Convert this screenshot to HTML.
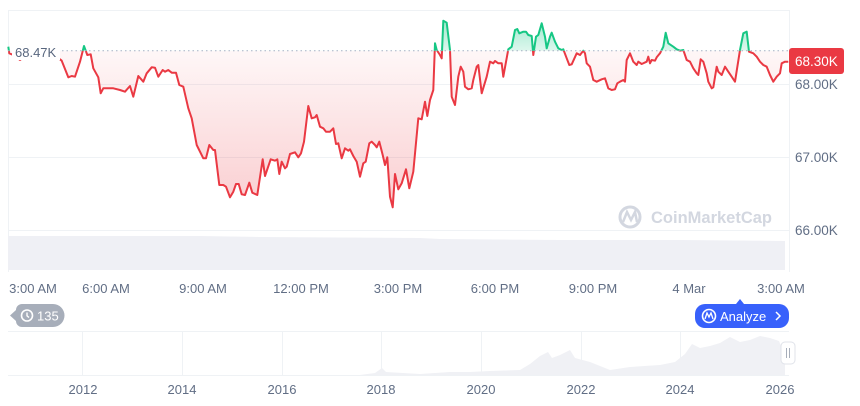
<!DOCTYPE html>
<html><head><meta charset="utf-8">
<style>
html,body{margin:0;padding:0;background:#fff;}
body{width:860px;height:401px;overflow:hidden;font-family:"Liberation Sans",sans-serif;}
svg text{font-family:"Liberation Sans",sans-serif;}
</style></head><body>
<svg id="s" width="860" height="401" viewBox="0 0 860 401" xmlns="http://www.w3.org/2000/svg">
<defs>
<linearGradient id="rg" x1="0" y1="50" x2="0" y2="210" gradientUnits="userSpaceOnUse">
<stop offset="0" stop-color="#ea3943" stop-opacity="0.04"/>
<stop offset="1" stop-color="#ea3943" stop-opacity="0.25"/>
</linearGradient>
<linearGradient id="gg" x1="0" y1="50" x2="0" y2="15" gradientUnits="userSpaceOnUse">
<stop offset="0" stop-color="#16c784" stop-opacity="0.15"/>
<stop offset="1" stop-color="#16c784" stop-opacity="0.45"/>
</linearGradient>
<clipPath id="above"><rect x="0" y="0" width="860" height="50.7"/></clipPath>
<clipPath id="below"><rect x="0" y="50.7" width="860" height="300"/></clipPath>
</defs>
<line x1="8" y1="10.5" x2="789" y2="10.5" stroke="#eff2f5"/>
<line x1="8" y1="84.5" x2="789" y2="84.5" stroke="#eff2f5"/>
<line x1="8" y1="157.5" x2="789" y2="157.5" stroke="#eff2f5"/>
<line x1="8" y1="230.5" x2="789" y2="230.5" stroke="#eff2f5"/>
<line x1="8.5" y1="10" x2="8.5" y2="272" stroke="#eff2f5"/>
<line x1="789.5" y1="10" x2="789.5" y2="272" stroke="#eff2f5"/>
<path d="M8 236 L200 236 L260 237 L420 238 L440 239 L560 240 L680 240 L785 241 L785 270 L8 270Z" fill="#eff0f5"/>
<g>
<circle cx="630" cy="217" r="10" fill="none" stroke="#d3d7e0" stroke-width="3"/>
<path d="M623 222 L627 212 L631 220 L635 212 L637 222" fill="none" stroke="#d3d7e0" stroke-width="2.5"/>
<text x="651" y="223" font-size="16.5" font-weight="bold" fill="#d3d7e0" textLength="121" lengthAdjust="spacingAndGlyphs">CoinMarketCap</text>
</g>
<g id="series"></g>
<line x1="8" y1="50.7" x2="789" y2="50.7" stroke="#a6b0c3" stroke-dasharray="1.5,3"/>
<rect x="12" y="43" width="48" height="17" fill="#fff"/>
<text x="15" y="57" font-size="13" fill="#58667e">68.47K</text>
<rect x="789" y="48" width="55" height="26" rx="3" fill="#ea3943"/>
<text x="795" y="66" font-size="13.5" fill="#fff">68.30K</text>
<text x="795" y="89" font-size="13.5" fill="#616e85">68.00K</text>
<text x="795" y="162" font-size="13.5" fill="#616e85">67.00K</text>
<text x="795" y="235" font-size="13.5" fill="#616e85">66.00K</text>
<g font-size="13" fill="#616e85" text-anchor="middle">
<text x="33" y="293">3:00 AM</text>
<text x="106" y="293">6:00 AM</text>
<text x="203" y="293">9:00 AM</text>
<text x="301" y="293">12:00 PM</text>
<text x="398" y="293">3:00 PM</text>
<text x="495" y="293">6:00 PM</text>
<text x="593" y="293">9:00 PM</text>
<text x="689" y="293">4 Mar</text>
<text x="781" y="293">3:00 AM</text>
</g>
<path d="M22 304 H53 A11.5 11.5 0 0 1 53 327 H22 A6 6 0 0 1 16 321 L10 315.5 L16 310 A6 6 0 0 1 22 304Z" fill="#a7aeba"/>
<circle cx="27" cy="315.5" r="5.5" fill="none" stroke="#fff" stroke-width="1.6"/>
<path d="M27 312.5 V315.8 L29 317.5" fill="none" stroke="#fff" stroke-width="1.4"/>
<text x="37" y="320.5" font-size="13" fill="#fff">135</text>
<path d="M736 304 L740 299 L744 304Z" fill="#3861fb"/>
<rect x="695" y="304" width="94" height="24" rx="10" fill="#3861fb"/>
<circle cx="709" cy="316" r="6.5" fill="none" stroke="#fff" stroke-width="1.6"/>
<path d="M705 319 L707 313 L709 317 L711 313 L713 319" fill="none" stroke="#fff" stroke-width="1.3"/>
<text x="720" y="321" font-size="13" fill="#fff">Analyze</text>
<path d="M776 312 L780 316 L776 320" fill="none" stroke="#fff" stroke-width="1.5"/>
<line x1="8" y1="331.5" x2="789" y2="331.5" stroke="#eff2f5"/>
<line x1="8" y1="375.5" x2="789" y2="375.5" stroke="#eff2f5"/>
<g stroke="#eff2f5">
<line x1="82.5" y1="332" x2="82.5" y2="375"/><line x1="182.5" y1="332" x2="182.5" y2="375"/>
<line x1="282.5" y1="332" x2="282.5" y2="375"/><line x1="381.5" y1="332" x2="381.5" y2="375"/>
<line x1="481.5" y1="332" x2="481.5" y2="375"/><line x1="581.5" y1="332" x2="581.5" y2="375"/>
<line x1="680.5" y1="332" x2="680.5" y2="375"/>
</g>
<path d="M8 375 L360 375 L375 373 L382 368 L386 372 L420 374 L450 372 L470 372 L490 371 L520 370 L530 364 L540 356 L548 352 L552 358 L560 355 L570 350 L575 358 L590 362 L610 370 L630 367 L660 365 L675 362 L685 354 L692 344 L700 348 L710 346 L720 343 L730 337 L740 342 L750 340 L760 336 L770 338 L779 341 L785 356 L785 375Z" fill="#f0f1f5"/>
<rect x="781" y="342" width="14" height="22" rx="4" fill="#fff" stroke="#e0e3ea"/>
<line x1="786.5" y1="348" x2="786.5" y2="358" stroke="#a7aeba"/><line x1="789.5" y1="348" x2="789.5" y2="358" stroke="#a7aeba"/>
<g font-size="13" fill="#616e85" text-anchor="middle">
<text x="83" y="394">2012</text><text x="182" y="394">2014</text><text x="282" y="394">2016</text>
<text x="381" y="394">2018</text><text x="481" y="394">2020</text><text x="581" y="394">2022</text>
<text x="680" y="394">2024</text><text x="780" y="394">2026</text>
</g>
</svg>
<script>
var z1=[[25,140],[28,160],[40,165],[60,180],[80,165],[110,175],[140,170],[160,172],[180,178],[185,182],[205,232],[215,228],[225,230],[240,185],[252,138],[262,165],[272,163],[280,205],[295,232],[302,280],[310,265],[340,265],[360,270],[375,275],[390,258],[400,290],[415,228],[430,245],[440,220],[455,202],[465,203],[475,230],[488,210],[495,215],[505,210],[515,218],[528,218],[538,255],[550,260],[565,325],[575,355],[590,435],[610,475],[618,475],[628,435],[640,450],[645,450],[658,555],[670,555],[678,560],[690,592],[700,575],[708,552],[716,552],[725,583],[735,585],[748,548],[757,578],[772,585],[788,478],[795,528],[812,478],[825,482],[832,478],[838,522],[845,485],[855,505],[860,500],[870,462],[885,457],[895,472],[903,460],[912,425],[925,318],[935,355],[945,352],[950,345],[960,380],[970,385],[978,395],[990,395],[1000,385],[1008,432],[1015,430],[1025,475],[1035,445],[1045,452],[1050,448],[1060,468],[1070,485],[1080,530],[1090,490],[1097,485],[1108,430],[1115,425],[1125,435],[1130,442],[1138,425],[1148,465],[1155,495],[1162,472],[1170,590],[1178,622],[1185,522],[1195,568],[1205,550],[1218,508],[1228,565],[1240,515],[1255,355],[1265,358],[1275,305],[1282,348],[1290,300]];
var z2=[[0,330],[10,270],[15,130],[20,150],[30,165],[35,175],[40,62],[50,68],[60,150],[65,290],[75,315],[85,230],[92,200],[100,215],[105,260],[115,268],[125,265],[130,240],[140,200],[145,195],[155,280],[170,230],[180,185],[190,190],[195,183],[205,190],[215,190],[220,230],[235,148],[245,140],[255,90],[262,87],[268,100],[280,95],[288,95],[295,105],[305,108],[310,165],[318,110],[325,105],[335,70],[345,110],[350,145],[360,110],[365,98],[375,125],[385,145],[395,150],[400,148],[410,175],[418,195],[425,193],[440,160],[450,165],[460,152],[465,160],[470,190],[480,200],[490,240],[500,245],[515,238],[525,235],[535,265],[545,270],[555,268],[562,250],[570,245],[580,240],[585,245],[590,180],[600,160],[610,185],[620,195],[625,185],[635,192],[650,185],[655,170],[660,190],[665,180],[675,182],[680,172],[690,160],[700,140],[707,98],[715,130],[730,140],[740,148],[750,152],[760,150],[770,180],[780,185],[790,205],[800,220],[805,225],[812,178],[820,185],[830,220],[835,245],[845,265],[850,262],[860,200],[865,215],[875,225],[885,200],[895,215],[905,230],[915,245],[930,150],[940,100],[950,95],[957,155],[970,160],[980,170],[990,185],[1000,195],[1010,200],[1020,225],[1030,245],[1040,230],[1050,220],[1055,190],[1065,185],[1075,185]];
var pts=[];
z1.forEach(function(p){pts.push([p[0]/3,p[1]/3]);});
z2.slice(1).forEach(function(p){pts.push([430+p[0]/3,p[1]/3]);});
var line="M"+pts.map(function(p){return p[0].toFixed(1)+" "+p[1].toFixed(1);}).join(" L");
var area=line+" L"+pts[pts.length-1][0].toFixed(1)+" 50.7 L"+pts[0][0].toFixed(1)+" 50.7Z";
var g=document.getElementById("series");
g.innerHTML='<path d="'+area+'" fill="url(#rg)" clip-path="url(#below)"/>'+
'<path d="'+area+'" fill="url(#gg)" clip-path="url(#above)"/>'+
'<path d="'+line+'" fill="none" stroke="#ea3943" stroke-width="2" stroke-linejoin="round" clip-path="url(#below)"/>'+
'<path d="'+line+'" fill="none" stroke="#16c784" stroke-width="2" stroke-linejoin="round" clip-path="url(#above)"/>';
</script>
</body></html>
